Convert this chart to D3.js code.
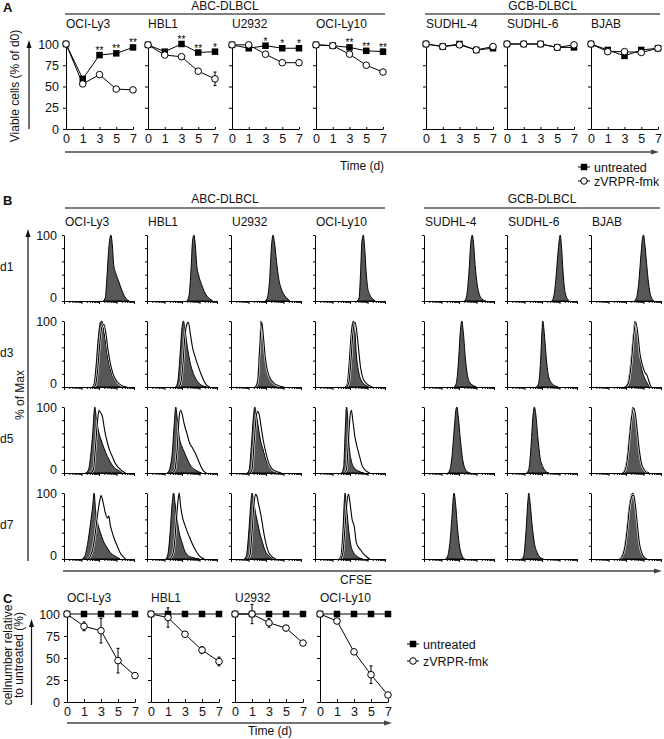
<!DOCTYPE html>
<html>
<head>
<meta charset="utf-8">
<script src="https://cdn.jsdelivr.net/npm/d3@7"></script>
<style>
  body { margin: 0; background: #fff; }
  svg text { font-family: "Liberation Sans", Arial, sans-serif; fill: #111; }
</style>
</head>
<body>
<svg id="fig" width="664" height="739"></svg>
<script>
// ---- data ----
const timepoints = ["0", "1", "3", "5", "7"];
const abcLines = ["OCI-Ly3", "HBL1", "U2932", "OCI-Ly10"];
const gcbLines = ["SUDHL-4", "SUDHL-6", "BJAB"];
const cellLines = abcLines.concat(gcbLines);
const pctTicks = [0, 25, 50, 75, 100];
const histDays = ["d1", "d3", "d5", "d7"];

// A: viable cells (% of d0)
const viableUntreated = [
  [100, 59, 87, 89, 96],
  [99, 91, 100, 90, 91],
  [99, 95, 98, 95, 95],
  [99, 98, 96, 92, 91],
  [100, 97, 100, 93, 95],
  [100, 100, 100, 96, 96],
  [100, 93, 86, 93, 95]
];
const viableUntreatedErr = [
  [0, 0, 0, 0, 2],
  [0, 0, 0, 0, 0],
  [0, 0, 0, 0, 0],
  [0, 0, 0, 0, 3],
  [0, 0, 0, 0, 0],
  [0, 0, 0, 0, 0],
  [0, 0, 0, 0, 0]
];
const viableTreated = [
  [100, 53, 64, 47, 46],
  [99, 87, 85, 68, 59],
  [99, 99, 88, 78, 78],
  [99, 98, 88, 75, 67],
  [100, 97, 99, 93, 97],
  [100, 100, 100, 96, 99],
  [100, 91, 91, 90, 95]
];
const viableTreatedErr = [
  [0, 0, 0, 0, 0],
  [0, 0, 0, 0, 8],
  [0, 0, 0, 0, 0],
  [0, 0, 0, 0, 0],
  [0, 0, 0, 0, 0],
  [0, 0, 0, 0, 0],
  [0, 0, 0, 0, 0]
];
const viableStars = [
  ["", "", "**", "**", "**"],
  ["", "", "**", "**", "*"],
  ["", "", "*", "*", "*"],
  ["", "", "**", "**", "**"],
  ["", "", "", "", ""],
  ["", "", "", "", ""],
  ["", "", "", "", ""]
];

// B: CFSE histograms, [CFSE position 0-100, % of max]
const cfseD1Untreated = [
  [[56,0],[59,5],[61,30],[64,80],[67,100],[69,85],[71,55],[74,42],[78,30],[82,18],[86,8],[90,2],[93,0]],
  [[57,0],[60,8],[63,50],[65,90],[67,100],[69,85],[71,55],[74,38],[78,25],[82,14],[86,7],[90,3],[94,0]],
  [[49,0],[52,5],[55,30],[58,85],[60,100],[62,90],[65,60],[68,35],[72,18],[76,9],[80,4],[84,0]],
  [[60,0],[63,5],[65,40],[67,90],[69,100],[71,80],[73,45],[75,22],[78,10],[82,4],[86,0]],
  [[58,0],[61,8],[64,40],[67,90],[69,100],[71,85],[73,55],[76,25],[79,10],[83,3],[88,0]],
  [[64,0],[67,8],[70,35],[73,75],[75,95],[76,100],[78,80],[80,45],[82,20],[85,6],[89,0]],
  [[62,0],[65,5],[68,25],[71,65],[74,98],[75,100],[77,85],[80,50],[83,20],[86,6],[90,0]]
];
const cfseD1Treated = [null, null, null, null, null, null, null];
const cfseD3Untreated = [
  [[40,0],[43,5],[46,35],[49,75],[52,98],[54,100],[56,90],[59,70],[62,48],[66,28],[70,15],[75,7],[82,2],[90,0]],
  [[41,0],[44,8],[47,45],[50,90],[52,100],[54,90],[57,65],[61,40],[65,24],[70,12],[75,5],[82,1],[88,0]],
  [[34,0],[37,5],[40,40],[43,100],[45,85],[48,50],[51,28],[55,15],[60,8],[66,3],[75,0]],
  [[43,0],[46,5],[49,40],[52,85],[55,100],[57,85],[59,50],[62,25],[66,10],[72,3],[80,0]],
  [[43,0],[46,5],[49,35],[52,85],[54,100],[56,85],[59,45],[62,18],[66,6],[71,2],[75,0]],
  [[42,0],[45,5],[48,40],[50,85],[51,100],[53,85],[56,45],[59,18],[63,7],[68,2],[73,0]],
  [[48,0],[52,5],[56,30],[60,75],[63,100],[66,85],[69,55],[72,30],[76,15],[80,6],[85,0]]
];
const cfseD3Treated = [
  [[42,0],[45,3],[48,25],[51,65],[54,90],[57,95],[60,80],[63,55],[67,32],[71,17],[76,8],[83,2],[90,0]],
  [[45,0],[48,5],[51,30],[54,75],[57,95],[59,98],[62,80],[65,60],[69,45],[73,32],[77,20],[81,10],[85,3],[90,0]],
  [[35,0],[38,8],[41,60],[44,98],[46,80],[49,45],[52,25],[56,13],[61,6],[68,2],[76,0]],
  [[45,0],[48,5],[51,35],[54,80],[57,98],[59,90],[62,60],[65,30],[69,12],[75,4],[82,0]],
  null,
  null,
  [[49,0],[53,5],[57,30],[61,78],[64,98],[67,80],[70,50],[73,35],[77,22],[80,18],[83,8],[86,0]]
];
const cfseD5Untreated = [
  [[31,0],[35,5],[38,25],[41,60],[44,100],[46,85],[49,65],[53,50],[57,38],[62,25],[67,15],[72,8],[78,4],[85,0]],
  [[29,0],[32,5],[36,30],[39,75],[41,100],[43,85],[46,55],[50,40],[54,30],[58,20],[63,10],[70,4],[78,0]],
  [[23,0],[26,5],[29,40],[32,85],[34,100],[36,90],[39,70],[42,50],[46,35],[50,20],[55,10],[62,3],[70,0]],
  [[38,0],[41,10],[43,60],[45,100],[47,80],[49,40],[52,18],[56,8],[62,3],[70,0]],
  [[34,0],[37,5],[40,25],[43,65],[46,98],[47,100],[49,85],[52,50],[55,22],[58,8],[62,2],[66,0]],
  [[28,0],[31,5],[34,35],[37,85],[39,100],[41,90],[44,55],[47,25],[51,10],[55,3],[60,0]],
  [[45,0],[48,5],[51,20],[54,50],[57,80],[60,100],[62,95],[65,70],[68,40],[71,18],[75,7],[80,2],[83,0]]
];
const cfseD5Treated = [
  [[38,0],[42,5],[45,40],[48,80],[50,95],[52,92],[55,85],[58,65],[61,50],[65,35],[69,25],[73,15],[78,8],[83,3],[88,0]],
  [[36,0],[40,5],[43,35],[46,85],[48,95],[50,90],[53,75],[57,60],[61,45],[65,38],[69,30],[73,20],[77,10],[81,3],[85,0]],
  [[27,0],[30,5],[33,45],[36,85],[38,93],[40,90],[43,70],[46,50],[50,30],[54,15],[59,6],[66,2],[72,0]],
  [[42,0],[45,5],[47,35],[50,85],[52,95],[54,80],[57,55],[60,40],[63,28],[67,12],[72,4],[78,0]],
  null,
  null,
  [[46,0],[49,5],[52,22],[55,55],[58,85],[61,98],[63,92],[66,65],[69,35],[72,15],[76,5],[81,0]]
];
const cfseD7Untreated = [
  [[26,0],[30,5],[34,25],[38,55],[41,80],[43,100],[45,75],[48,55],[52,40],[56,28],[61,18],[66,10],[72,5],[80,0]],
  [[27,0],[30,8],[33,40],[36,85],[38,100],[40,85],[43,60],[46,40],[50,25],[54,12],[59,5],[66,2],[75,0]],
  [[19,0],[22,5],[25,35],[28,80],[30,100],[32,90],[35,70],[38,55],[41,40],[45,25],[49,12],[54,5],[62,0]],
  [[34,0],[37,5],[40,45],[42,90],[43,100],[45,80],[48,45],[51,22],[55,10],[60,4],[68,0]],
  [[31,0],[34,5],[37,25],[40,65],[42,95],[43,100],[45,85],[48,45],[51,18],[54,6],[58,0]],
  [[21,0],[24,5],[27,40],[30,90],[31,100],[33,85],[36,50],[39,25],[43,10],[47,3],[52,0]],
  [[41,0],[44,5],[48,20],[51,45],[54,75],[58,98],[60,100],[62,90],[65,60],[68,30],[72,10],[76,3],[80,0]]
];
const cfseD7Treated = [
  [[34,0],[38,5],[42,20],[46,50],[49,75],[51,88],[53,96],[56,85],[59,70],[62,62],[64,65],[66,52],[69,40],[72,30],[76,20],[80,10],[84,4],[88,0]],
  [[32,0],[36,5],[39,20],[42,60],[45,95],[46,100],[48,80],[51,62],[54,52],[58,40],[62,30],[66,20],[70,12],[74,6],[78,2],[82,0]],
  [[24,0],[27,5],[30,40],[33,85],[35,98],[37,95],[40,80],[43,65],[46,45],[49,28],[53,12],[58,4],[64,0]],
  [[37,0],[40,10],[43,50],[46,90],[48,98],[50,85],[53,60],[56,50],[59,25],[62,18],[65,14],[69,8],[74,3],[78,0]],
  null,
  null,
  [[42,0],[45,5],[49,22],[52,48],[55,78],[59,96],[61,97],[63,85],[66,55],[69,25],[73,8],[78,0]]
];
const cfseUntreated = [cfseD1Untreated, cfseD3Untreated, cfseD5Untreated, cfseD7Untreated];
const cfseTreated = [cfseD1Treated, cfseD3Treated, cfseD5Treated, cfseD7Treated];

// C: cell number relative to untreated (%)
const relUntreated = [
  [100, 100, 100, 100, 100],
  [100, 100, 100, 100, 100],
  [100, 100, 100, 100, 100],
  [100, 100, 100, 100, 100]
];
const relTreated = [
  [100, 86, 81, 47, 30],
  [100, 96, 77, 59, 46],
  [100, 100, 90, 84, 67],
  [100, 92, 57, 31, 8]
];
const relTreatedErr = [
  [0, 5, 14, 14, 2],
  [0, 11, 2, 4, 5],
  [0, 11, 5, 3, 1],
  [0, 2, 1, 10, 2]
];

// ---- layout ----
const svg = d3.select("#fig");
const FS = 12.5;
const aLeft = [66, 148, 232, 316, 426, 507, 591], aW = 67;
const bLeft = [64, 147, 231, 315, 424, 507, 591], bW = 70, bTop = [235, 321, 407, 493], bH = 66;
const cLeft = [67, 151, 235, 320], cW = 68;

function txt(x, y, s, opts = {}) {
  const t = svg.append("text").attr("x", x).attr("y", y).text(s)
    .attr("font-size", opts.size || FS)
    .attr("text-anchor", opts.anchor || "start");
  if (opts.bold) t.attr("font-weight", "bold");
  if (opts.rotate) t.attr("transform", `rotate(-90,${x},${y})`);
  return t;
}

function hArrow(x1, x2, y) {
  svg.append("line").attr("x1", x1).attr("x2", x2 - 4).attr("y1", y).attr("y2", y)
    .attr("stroke", "#444").attr("stroke-width", 1.3);
  svg.append("path").attr("d", `M${x2},${y} l-8,-2.5 l0,5 z`).attr("fill", "#444");
}

function vArrow(x, y1, y2) {
  svg.append("line").attr("x1", x).attr("x2", x).attr("y1", y1).attr("y2", y2 + 4)
    .attr("stroke", "#111").attr("stroke-width", 1.2);
  svg.append("path").attr("d", `M${x},${y2} l-2.5,8 l5,0 z`).attr("fill", "#111");
}

function groupHeader(label, x1, x2, yText, yLine) {
  txt((x1 + x2) / 2, yText, label, {anchor: "middle", size: 12});
  svg.append("line").attr("x1", x1).attr("x2", x2).attr("y1", yLine).attr("y2", yLine)
    .attr("stroke", "#555").attr("stroke-width", 1.3);
}

function styleAxis(g) {
  g.attr("font-family", null).attr("font-size", FS);
  g.select(".domain").attr("stroke", "#000");
  g.selectAll(".tick line").attr("stroke", "#000");
  g.selectAll(".tick text").attr("fill", "#111");
}

function square(g, x, y, s) {
  g.append("rect").attr("x", x - s / 2).attr("y", y - s / 2).attr("width", s).attr("height", s)
    .attr("fill", "#000");
}
function circle(g, x, y, r) {
  g.append("circle").attr("cx", x).attr("cy", y).attr("r", r)
    .attr("fill", "#fff").attr("stroke", "#000").attr("stroke-width", 1);
}

function errBars(g, x, y, vals, errs) {
  vals.forEach((v, i) => {
    const e = errs[i];
    if (!e) return;
    const cx = x(timepoints[i]);
    g.append("line").attr("x1", cx).attr("x2", cx).attr("y1", y(v - e)).attr("y2", y(v + e))
      .attr("stroke", "#000").attr("stroke-width", 1);
    [v - e, v + e].forEach(b => g.append("line").attr("x1", cx - 1.5).attr("x2", cx + 1.5)
      .attr("y1", y(b)).attr("y2", y(b)).attr("stroke", "#000"));
  });
}

function drawLinePanel(x0, w, y, yLabels, xTickDir, untreated, uErr, treated, tErr, stars) {
  const x = d3.scalePoint().domain(timepoints).range([x0, x0 + w]);
  const g = svg.append("g");
  const ax = g.append("g").attr("transform", `translate(0,${y.range()[0]})`)
    .call(d3.axisBottom(x).tickSizeInner(xTickDir).tickSizeOuter(0).tickPadding(xTickDir < 0 ? 5 : 3));
  styleAxis(ax);
  const ay = g.append("g").attr("transform", `translate(${x0},0)`)
    .call(d3.axisLeft(y).tickValues(pctTicks).tickSize(3).tickSizeOuter(0).tickPadding(4)
      .tickFormat(yLabels ? d3.format("d") : ""));
  styleAxis(ay);

  const line = d3.line().x((d, i) => x(timepoints[i])).y(d => y(d));
  g.append("path").datum(untreated).attr("d", line).attr("fill", "none").attr("stroke", "#000");
  g.append("path").datum(treated).attr("d", line).attr("fill", "none").attr("stroke", "#000");
  if (uErr) errBars(g, x, y, untreated, uErr);
  errBars(g, x, y, treated, tErr);
  untreated.forEach((v, i) => square(g, x(timepoints[i]), y(v), 6.5));
  treated.forEach((v, i) => circle(g, x(timepoints[i]), y(v), 3.3));
  if (stars) {
    stars.forEach((s, i) => {
      if (!s) return;
      g.append("text").attr("x", x(timepoints[i])).attr("y", y(untreated[i]) - 1)
        .attr("text-anchor", "middle").attr("font-size", 10)
        .style("fill", "#000").text(s);
    });
  }
}

function legend(x, y, gap) {
  const g = svg.append("g");
  [0, 1].forEach(k => {
    const yy = y + k * gap;
    g.append("line").attr("x1", x - 6).attr("x2", x + 6).attr("y1", yy).attr("y2", yy)
      .attr("stroke", "#000");
    if (k === 0) square(g, x, yy, 6.5); else circle(g, x, yy, 3.3);
    txt(x + 10, yy + 4.5, k === 0 ? "untreated" : "zVRPR-fmk");
  });
}

// ---- panel A ----
txt(3, 12, "A", {bold: true, size: 13});
groupHeader("ABC-DLBCL", 65, 385, 10, 14);
groupHeader("GCB-DLBCL", 425, 660, 10, 14);
const yA = d3.scaleLinear().domain([0, 100]).range([129, 44]);
cellLines.forEach((name, i) => {
  txt(aLeft[i], 28, name, {size: 12});
  drawLinePanel(aLeft[i], aW, yA, i === 0, -2, viableUntreated[i], viableUntreatedErr[i],
    viableTreated[i], viableTreatedErr[i], viableStars[i]);
});
vArrow(29, 129, 40);
txt(19, 86, "Viable cells (% of d0)", {anchor: "middle", size: 12, rotate: true});
hArrow(65, 659, 152);
txt(362, 170, "Time (d)", {anchor: "middle", size: 12});
legend(584, 167, 14);

// ---- panel B ----
txt(3, 205, "B", {bold: true, size: 13});
groupHeader("ABC-DLBCL", 65, 385, 203, 208);
groupHeader("GCB-DLBCL", 424, 660, 203, 208);
cellLines.forEach((name, i) => txt(bLeft[i] + 1, 226, name, {size: 12}));

function drawHist(x0, top, filled, open, labels) {
  const g = svg.append("g");
  const x = d3.scaleLinear().domain([0, 100]).range([x0, x0 + bW]);
  const y = d3.scaleLinear().domain([0, 100]).range([top + bH, top]);
  const area = d3.area().x(d => x(d[0])).y0(y(0)).y1(d => y(d[1])).curve(d3.curveMonotoneX);
  const line = d3.line().x(d => x(d[0])).y(d => y(d[1])).curve(d3.curveMonotoneX);
  g.append("path").datum(filled).attr("d", area)
    .attr("fill", "#575757").attr("stroke", "#000").attr("stroke-width", 1);
  if (open) {
    g.append("path").datum(open).attr("d", line).attr("fill", "none")
      .attr("stroke", "#fff").attr("stroke-width", 2.2);
    g.append("path").datum(open).attr("d", line).attr("fill", "none")
      .attr("stroke", "#000").attr("stroke-width", 1.1);
  }
  const xl = d3.scaleLog().domain([10, 1e5]).range([x0, x0 + bW]);
  const ax = g.append("g").attr("transform", `translate(0,${top + bH})`)
    .call(d3.axisBottom(xl).tickSize(2).tickSizeOuter(0).tickFormat(""));
  styleAxis(ax);
  ax.selectAll(".tick line").filter(d => Math.abs(Math.log10(d) % 1) < 1e-6).attr("y2", 3);
  const ay = g.append("g").attr("transform", `translate(${x0},0)`)
    .call(d3.axisLeft(y).tickValues([0, 20, 40, 60, 80, 100]).tickSize(2).tickSizeOuter(0).tickFormat(""));
  styleAxis(ay);
  if (labels) {
    txt(x0 - 7, top + 5, "100", {anchor: "end"});
    txt(x0 - 7, top + bH + 1, "0", {anchor: "end"});
  }
}

histDays.forEach((day, r) => {
  txt(0, bTop[r] + bH / 2 + 3, day, {size: 12});
  cellLines.forEach((name, i) => {
    drawHist(bLeft[i], bTop[r], cfseUntreated[r][i], cfseTreated[r][i], i === 0);
  });
});
vArrow(28, 561, 229);
txt(24, 395, "% of Max", {anchor: "middle", size: 12, rotate: true});
hArrow(63, 662, 571);
txt(356, 584, "CFSE", {anchor: "middle", size: 12});

// ---- panel C ----
txt(3, 603, "C", {bold: true, size: 13});
const yC = d3.scaleLinear().domain([0, 100]).range([702, 614]);
abcLines.forEach((name, i) => {
  txt(cLeft[i], 602, name, {size: 12});
  drawLinePanel(cLeft[i], cW, yC, i === 0, -3, relUntreated[i], null,
    relTreated[i], relTreatedErr[i], null);
});
vArrow(31.5, 705, 619);
txt(12, 655, "cellnumber relative", {anchor: "middle", size: 12, rotate: true});
txt(23, 655, "to untreated (%)", {anchor: "middle", size: 12, rotate: true});
hArrow(67, 392, 723);
txt(270, 735, "Time (d)", {anchor: "middle", size: 12});
legend(413, 644, 17);
</script>
</body>
</html>
